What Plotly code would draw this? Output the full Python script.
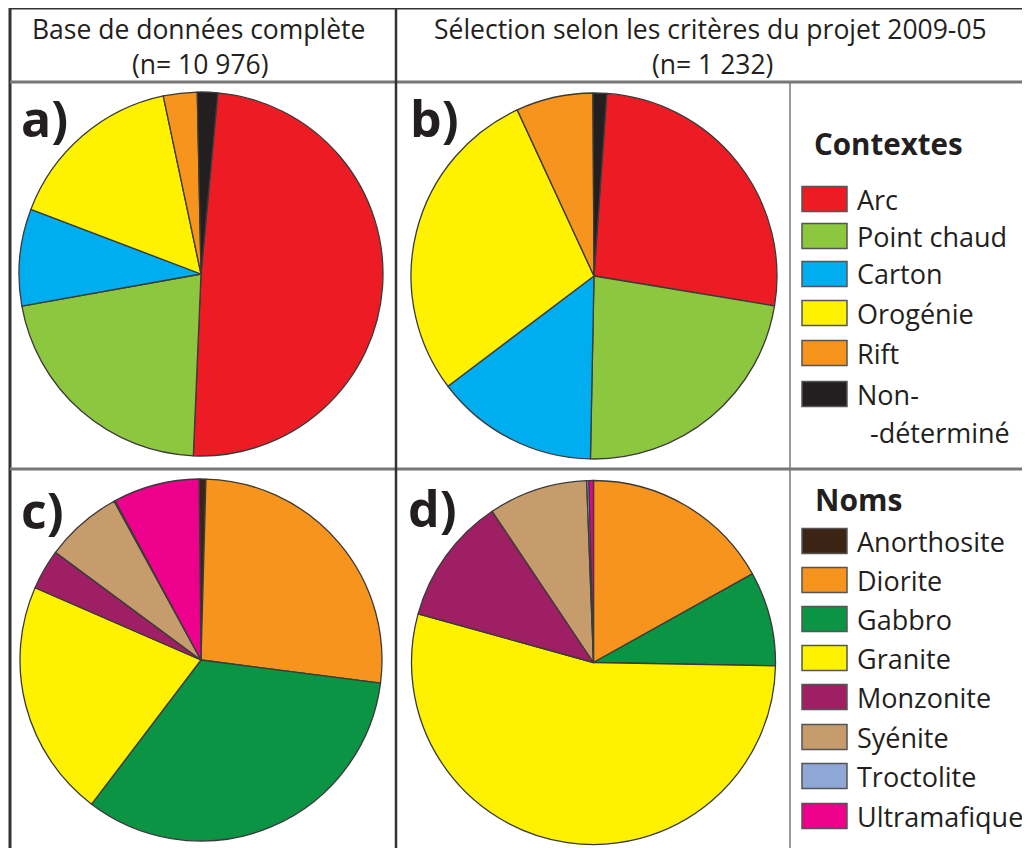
import plotly.graph_objects as go

# categories / values (percent of samples)
contextes = ["Arc", "Point chaud", "Carton", "Orogénie", "Rift", "Non-déterminé"]
contextes_colors = ["#ED1C24", "#8DC63F", "#00AEEF", "#FFF200", "#F7941D", "#231F20"]
pct_a = [49.2, 21.5, 8.6, 15.9, 3.0, 1.8]
pct_b = [26.5, 22.7, 14.4, 28.4, 6.8, 1.2]

noms = ["Anorthosite", "Diorite", "Gabbro", "Granite", "Monzonite", "Syénite",
        "Troctolite", "Ultramafique"]
noms_colors = ["#3C2415", "#F7941D", "#0B9444", "#FFF200", "#9E1F63", "#C69C6D",
               "#8FA8D8", "#EC008C"]
pct_c = [0.6, 26.6, 33.3, 21.2, 3.6, 6.9, 0.1, 7.7]
pct_d = [0.0, 16.9, 8.4, 54.0, 11.3, 8.8, 0.2, 0.4]

header_left = ["Base de données complète", "(n= 10 976)"]
header_right = ["Sélection selon les critères du projet 2009-05", "(n= 1 232)"]

W, H = 1030, 848
OFF = 8  # page body margin


def px(x):
    return (x - OFF) / W


def py(y):
    return 1 - (y - OFF) / H


def dom(cx, cy, r):
    return dict(x=[px(cx - r), px(cx + r)], y=[py(cy + r), py(cy - r)])


fig = go.Figure()
pies = [
    (contextes, pct_a, contextes_colors, 5.3, (201, 274, 182)),
    (contextes, pct_b, contextes_colors, 4.0, (594, 276, 183)),
    (noms, pct_c, noms_colors, -0.6, (201, 660, 181)),
    (noms, pct_d, noms_colors, 0.0, (593.5, 662.5, 182)),
]
for labels, vals, cols, rot, (cx, cy, r) in pies:
    fig.add_trace(go.Pie(labels=labels, values=vals, sort=False, direction="clockwise",
                         rotation=rot, textinfo="none", hoverinfo="label+percent",
                         showlegend=False, domain=dom(cx, cy, r),
                         marker=dict(colors=cols, line=dict(color="#3a3a3a", width=1.3))))

shapes = []


def line(x0, y0, x1, y1, color, width):
    shapes.append(dict(type="line", xref="paper", yref="paper", x0=px(x0), y0=py(y0),
                       x1=px(x1), y1=py(y1), line=dict(color=color, width=width)))


# table grid
line(10, 8, 1040, 8, "#333333", 3)
line(10, 8, 10, 860, "#333333", 3)
line(10, 82, 1040, 82, "#777777", 3)
line(10, 469, 1040, 469, "#777777", 3)
line(396, 8, 396, 860, "#333333", 2.5)
line(790, 82, 790, 860, "#777777", 1.5)

font = "Open Sans"
txt = "#231F20"
ann = []


def text(x, y, s, size, anchor="center", bold=False):
    ann.append(dict(xref="paper", yref="paper", x=px(x), y=py(y), text=s, showarrow=False,
                    xanchor=anchor, yanchor="middle",
                    font=dict(family=font, size=size, color=txt,
                              weight="bold" if bold else "normal")))


text(198, 29, header_left[0], 26.5)
text(200, 64, header_left[1], 26.5)
text(710, 29, header_right[0], 26.5)
text(712, 64, header_right[1], 26.5)

for lab, (x, y) in zip(["a)", "b)", "c)", "d)"], [(44, 118), (434, 118), (42, 510), (432, 508)]):
    text(x, y, lab, 50, bold=True)


def legend_box(yc, color):
    shapes.append(dict(type="rect", xref="paper", yref="paper", x0=px(802), x1=px(847),
                       y0=py(yc + 12.5), y1=py(yc - 12.5), fillcolor=color,
                       line=dict(color="#555555", width=1.5)))


text(812, 143, "Contextes", 29.5, anchor="left", bold=True)
ctx_y = [199, 236, 274, 313, 353, 394]
for name, col, yc in zip(contextes, contextes_colors, ctx_y):
    legend_box(yc, col)
    if name == "Non-déterminé":
        text(855, yc, "Non-", 27, anchor="left")
        text(868, yc + 38, "-déterminé", 27, anchor="left")
    else:
        text(855, yc, name, 27, anchor="left")

text(813, 499, "Noms", 30, anchor="left", bold=True)
noms_y = [541, 580, 619, 658, 697, 737, 776, 816]
for name, col, yc in zip(noms, noms_colors, noms_y):
    legend_box(yc, col)
    text(855, yc, name, 27, anchor="left")

fig.update_layout(width=W, height=H, margin=dict(l=0, r=0, t=0, b=0),
                  paper_bgcolor="white", plot_bgcolor="white",
                  shapes=shapes, annotations=ann)
fig.write_html("out.html")
